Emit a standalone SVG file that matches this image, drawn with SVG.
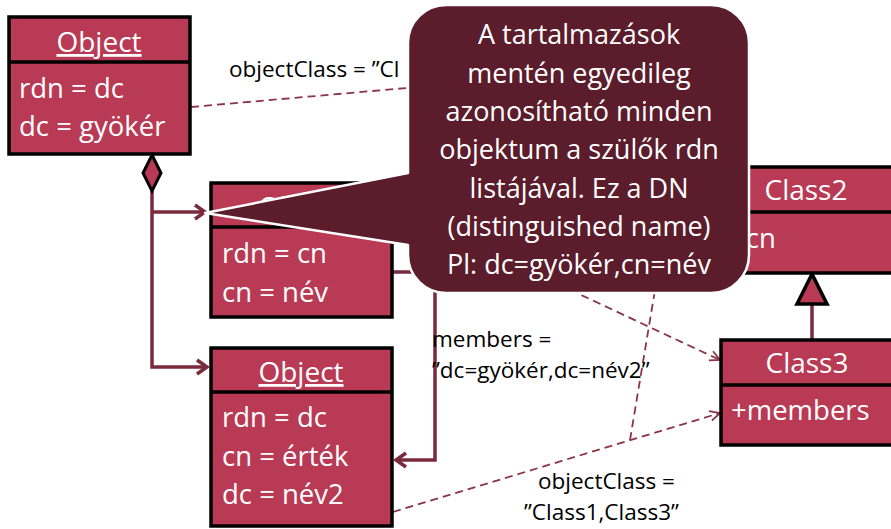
<svg xmlns="http://www.w3.org/2000/svg" width="891" height="529" viewBox="0 0 891 529">
  <defs>
    <style>
      .box{fill:#b93a54;stroke:#000;stroke-width:3.5}
      .sep{stroke:#000;stroke-width:3.5}
      .hd{font-family:"Open Sans","Liberation Sans",sans-serif;font-size:28px;fill:#fff;text-anchor:middle}
      .u{text-decoration:underline}
      .at{font-family:"Open Sans","Liberation Sans",sans-serif;font-size:27.5px;fill:#fff}
      .lbl{font-family:"Open Sans","Liberation Sans",sans-serif;font-size:22.5px;fill:#000}
      .note{font-family:"Open Sans","Liberation Sans",sans-serif;font-size:27px;fill:#fff;text-anchor:middle}
      .solid{fill:none;stroke:#7a2a3c;stroke-width:3.5}
      .dash{fill:none;stroke:#8b3448;stroke-width:1.8;stroke-dasharray:8 5}
    </style>
    <marker id="open" markerUnits="userSpaceOnUse" viewBox="0 0 14 18" markerWidth="14" markerHeight="18" refX="12" refY="9" orient="auto">
      <path d="M2,2 L12,9 L2,16" fill="none" stroke="#7a2a3c" stroke-width="3.5"/>
    </marker>
    <marker id="openThin" markerUnits="userSpaceOnUse" viewBox="0 0 12 12" markerWidth="12" markerHeight="12" refX="11" refY="6" orient="auto">
      <path d="M1,1 L11,6 L1,11" fill="none" stroke="#8b3448" stroke-width="1.8"/>
    </marker>
  </defs>

  <!-- connectors -->
  <g id="connectors">
    <!-- containment: root object owns its children -->
    <path class="solid" d="M152,191 V367 H207" marker-end="url(#open)"/>
    <path class="solid" d="M152,212 H205" marker-end="url(#open)"/>
    <!-- members reference -->
    <path class="solid" d="M393,272 H435 V460 H396" marker-end="url(#open)"/>
    <!-- generalization Class3 -> Class2 -->
    <path class="solid" d="M812,339 V303"/>
    <polygon points="812,274 797,304 827,304" fill="#b93a54" stroke="#000" stroke-width="3.5"/>
    <!-- instance-of links -->
    <path class="dash" d="M191,107 L520,78"/>
    <path class="dash" d="M393,207 L720,360" marker-end="url(#openThin)"/>
    <path class="dash" d="M393,512 L720,413" marker-end="url(#openThin)"/>
    <path class="dash" d="M630,440 L665,230"/>
  </g>

  <!-- connector labels -->
  <g id="labels">
    <text class="lbl" x="229" y="77">objectClass = ”Cl</text>
    <text class="lbl" x="432" y="347">members =</text>
    <text class="lbl" x="432" y="378">”dc=gyökér,dc=név2”</text>
    <text class="lbl" x="538" y="489">objectClass =</text>
    <text class="lbl" x="524" y="520">”Class1,Class3”</text>
  </g>

  <!-- root object -->
  <g id="object-root">
    <rect class="box" x="9" y="17" width="181" height="137"/>
    <line class="sep" x1="9" y1="62" x2="190" y2="62"/>
    <text class="hd u" x="99" y="52">Object</text>
    <text class="at" x="19" y="98">rdn = dc</text>
    <text class="at" x="19" y="136">dc = gyökér</text>
    <!-- composition diamond -->
    <polygon points="152,155 161,173 152,191 143,173" fill="#b93a54" stroke="#000" stroke-width="3"/>
  </g>

  <!-- child object with cn -->
  <g id="object-name">
    <rect class="box" x="211" y="183" width="181" height="134"/>
    <line class="sep" x1="211" y1="227" x2="392" y2="227"/>
    <text class="hd u" x="301" y="217">Object</text>
    <text class="at" x="222" y="263">rdn = cn</text>
    <text class="at" x="222" y="302">cn = név</text>
  </g>

  <!-- child object with dc -->
  <g id="object-dc">
    <rect class="box" x="211" y="348" width="181" height="178"/>
    <line class="sep" x1="211" y1="392" x2="392" y2="392"/>
    <text class="hd u" x="301" y="382">Object</text>
    <text class="at" x="222" y="427">rdn = dc</text>
    <text class="at" x="222" y="466">cn = érték</text>
    <text class="at" x="222" y="504">dc = név2</text>
  </g>

  <!-- Class2 -->
  <g id="class2">
    <rect class="box" x="721" y="167" width="240" height="106"/>
    <line class="sep" x1="721" y1="212" x2="961" y2="212"/>
    <text class="hd" x="806" y="200">Class2</text>
    <text class="at" x="730" y="248">+cn</text>
  </g>

  <!-- Class3 -->
  <g id="class3">
    <rect class="box" x="721" y="340" width="240" height="105"/>
    <line class="sep" x1="721" y1="385" x2="961" y2="385"/>
    <text class="hd" x="807" y="373">Class3</text>
    <text class="at" x="731" y="420">+members</text>
  </g>

  <!-- explanatory callout -->
  <g id="callout">
    <path d="M446,5 H711 A38,38 0 0 1 749,43 V255 A38,38 0 0 1 711,293 H446 A38,38 0 0 1 408,255 V245 L205,213 L408,173 V43 A38,38 0 0 1 446,5 Z" fill="#5b1d2b" stroke="#fff" stroke-width="2.5" stroke-linejoin="round"/>
    <text class="note" x="579" y="44">A tartalmazások</text>
    <text class="note" x="579" y="83">mentén egyedileg</text>
    <text class="note" x="579" y="121">azonosítható minden</text>
    <text class="note" x="579" y="159">objektum a szülők rdn</text>
    <text class="note" x="579" y="198">listájával. Ez a DN</text>
    <text class="note" x="579" y="236">(distinguished name)</text>
    <text class="note" x="579" y="274">Pl: dc=gyökér,cn=név</text>
  </g>
</svg>
